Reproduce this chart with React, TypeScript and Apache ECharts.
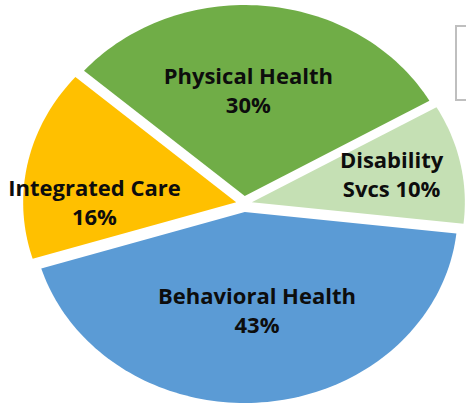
import React, { useEffect, useRef } from "react";
import * as echarts from "echarts";

const categories = ["Physical Health", "Disability\nSvcs", "Behavioral Health", "Integrated Care"];
const values = [30, 10, 43, 16];
const colors = ["#70AD47", "#C5E0B4", "#5B9BD5", "#FFC000"];

export default function App() {
  const ref = useRef<HTMLDivElement>(null);
  useEffect(() => {
    const chart = echarts.init(ref.current!, null, { renderer: "svg" });
    const total = values.reduce((a, b) => a + b, 0);
    const startDeg = 311;
    const cx = 244, cy = 204, rx = 213, ry = 191, explode = 8;
    const labelK = [0.56, 0.67, 0.515, 0.68];
    const labelShift = [[-8, 0], [0, -3], [2, 0], [0, 26]];
    const toRad = (d: number) => (d * Math.PI) / 180;
    const renderItem = (params: any, api: any) => {
      const i = params.dataIndex;
      let before = 0;
      for (let j = 0; j < i; j++) before += values[j];
      const v = api.value(0);
      const a0 = startDeg + (before / total) * 360;
      const a1 = a0 + (v / total) * 360;
      const am = toRad((a0 + a1) / 2);
      const ox = cx + explode * Math.sin(am);
      const oy = cy - explode * Math.cos(am);
      const pts: number[][] = [[ox, oy]];
      const n = Math.max(8, Math.ceil((a1 - a0) / 1.5));
      for (let k = 0; k <= n; k++) {
        const t = toRad(a0 + ((a1 - a0) * k) / n);
        pts.push([ox + rx * Math.sin(t), oy - ry * Math.cos(t)]);
      }
      const name = categories[i];
      const text = name.includes("\n") ? `${name} ${v}%` : `${name}\n${v}%`;
      const lx = ox + labelK[i] * rx * Math.sin(am) + labelShift[i][0];
      const ly = oy - labelK[i] * ry * Math.cos(am) + labelShift[i][1];
      return {
        type: "group",
        children: [
          { type: "polygon", shape: { points: pts }, style: { fill: colors[i], stroke: "none" } },
          {
            type: "text",
            x: lx,
            y: ly,
            style: {
              text,
              fill: "#0d0d0d",
              fontSize: 22,
              fontWeight: "bold",
              fontFamily: "Open Sans",
              align: "center",
              verticalAlign: "middle",
              lineHeight: 29,
            },
          },
        ],
      };
    };
    chart.setOption({
      animation: false,
      backgroundColor: "#ffffff",
      graphic: [
        {
          type: "rect",
          shape: { x: 456, y: 26, width: 40, height: 74 },
          style: { fill: "#ffffff", stroke: "#BFBFBF", lineWidth: 2 },
          z: 0,
        },
      ],
      series: [
        {
          type: "custom",
          coordinateSystem: "none",
          renderItem,
          data: values.map((v) => [v]),
          z: 2,
        },
      ],
    });
    return () => chart.dispose();
  }, []);
  return <div ref={ref} style={{ position: "fixed", left: 0, top: 0, width: 466, height: 407 }} />;
}
